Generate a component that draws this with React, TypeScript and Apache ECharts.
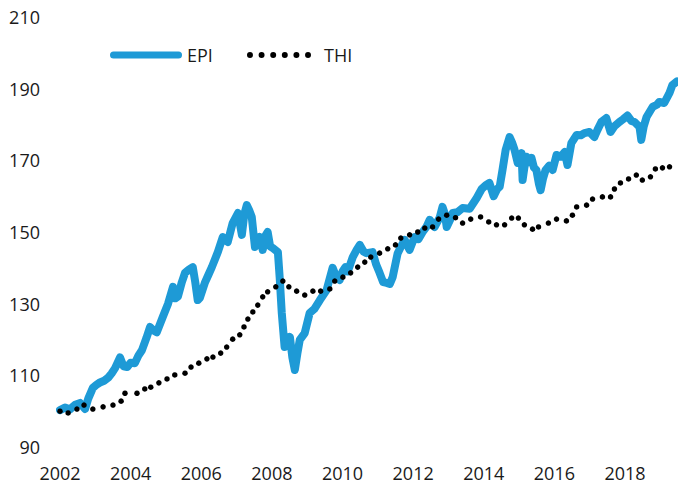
import React, { useEffect, useRef } from "react";
import * as echarts from "echarts";

const yearTicks = [2002, 2004, 2006, 2008, 2010, 2012, 2014, 2016, 2018];

const epiYears = [
  2002.0, 2002.14, 2002.28, 2002.43, 2002.57, 2002.71, 2002.8, 2002.93, 2003.05, 2003.13,
  2003.25, 2003.36, 2003.46, 2003.56, 2003.7, 2003.8, 2003.9, 2004.0, 2004.12, 2004.22,
  2004.32, 2004.45, 2004.55, 2004.65, 2004.74, 2004.91, 2005.06, 2005.2, 2005.27, 2005.34,
  2005.45, 2005.54, 2005.65, 2005.76, 2005.83, 2005.9, 2005.96, 2006.1, 2006.2, 2006.3,
  2006.47, 2006.61, 2006.75, 2006.89, 2007.04, 2007.1, 2007.15, 2007.22, 2007.29, 2007.36,
  2007.43, 2007.52, 2007.66, 2007.74, 2007.82, 2007.88, 2007.95, 2008.03, 2008.17, 2008.22,
  2008.28, 2008.36, 2008.45, 2008.51, 2008.58, 2008.65, 2008.72, 2008.79, 2008.93, 2009.07,
  2009.2, 2009.36, 2009.55, 2009.72, 2009.8, 2009.92, 2010.0, 2010.08, 2010.15, 2010.22,
  2010.29, 2010.4, 2010.49, 2010.6, 2010.68, 2010.85, 2010.95, 2011.05, 2011.15, 2011.25,
  2011.34, 2011.42, 2011.56, 2011.66, 2011.76, 2011.9, 2012.04, 2012.15, 2012.27, 2012.38,
  2012.47, 2012.61, 2012.75, 2012.83, 2012.9, 2012.95, 2013.05, 2013.12, 2013.25, 2013.4,
  2013.6, 2013.8, 2013.94, 2014.05, 2014.16, 2014.28, 2014.38, 2014.45, 2014.53, 2014.62,
  2014.73, 2014.8, 2014.87, 2014.96, 2015.07, 2015.1, 2015.15, 2015.21, 2015.28, 2015.35,
  2015.42, 2015.49, 2015.56, 2015.61, 2015.68, 2015.75, 2015.85, 2015.95, 2016.06, 2016.18,
  2016.29, 2016.37, 2016.48, 2016.63, 2016.75, 2016.85, 2016.99, 2017.13, 2017.22, 2017.33,
  2017.47, 2017.59, 2017.7, 2017.84, 2017.95, 2018.07, 2018.18, 2018.27, 2018.41, 2018.46,
  2018.53, 2018.61, 2018.78, 2018.9, 2018.97, 2019.11, 2019.26, 2019.34, 2019.47,
];

const epiValues = [
  100.3, 101.0, 100.5, 101.8, 102.3, 100.6, 103.5, 106.5, 107.5, 108,
  108.5, 109.3, 110.5, 112, 115, 112.5, 112.3, 113.5, 113.4, 115.5,
  117, 120.5, 123.5, 122.5, 122, 126.3, 130, 134.7, 131.5, 132,
  136, 138.6, 139.5, 140.2, 136, 131, 131.6, 135.8, 138, 140.2,
  144.4, 148.6, 147.2, 152.5, 155.3, 152, 149.2, 155, 157.5, 156,
  154.2, 145.8, 148.6, 145, 149, 150, 146, 145.5, 144.4, 137.4,
  127.4, 117.9, 119.5, 120.7, 115, 111.5, 116, 119.9, 121.8, 127.4,
  128.5, 131, 133.8, 140, 138, 136.6, 139, 140.2, 139, 141,
  143, 145, 146.4, 144.5, 144.1, 144.4, 141, 138.6, 136, 135.8,
  135.5, 137.4, 144, 146, 147.8, 145, 148.6, 148, 150, 151.5,
  153.4, 151.4, 154, 157, 155, 151.4, 153.5, 155.3, 155.5, 156.7,
  156.5, 159.5, 162, 163, 163.7, 160, 162, 162.6, 167.3, 172.9,
  176.5, 175, 173, 169.3, 172, 164.5, 168, 171, 169.5, 170.7,
  168, 167.3, 163.5, 161.7, 165, 167.3, 168.5, 167.3, 171.5, 171,
  172.3, 168.7, 174.8, 177.1, 177, 177.6, 177.9, 176.5, 178.5, 180.7,
  181.8, 177.9, 179.5, 180.7, 181.5, 182.5, 181, 180.7, 179.3, 175.7,
  179.5, 182.1, 184.9, 185.5, 186.3, 186, 188.8, 191, 192,
];

const thiYears = [
  2002.0, 2002.23, 2002.48, 2002.68, 2002.93, 2003.22, 2003.5, 2003.73, 2003.84, 2004.18,
  2004.4, 2004.57, 2004.8, 2005.03, 2005.25, 2005.54, 2005.71, 2005.93, 2006.16, 2006.33,
  2006.55, 2006.72, 2006.89, 2007.09, 2007.21, 2007.32, 2007.46, 2007.6, 2007.74, 2007.88,
  2008.11, 2008.31, 2008.48, 2008.7, 2008.93, 2009.16, 2009.38, 2009.64, 2009.78, 2010.01,
  2010.23, 2010.43, 2010.63, 2010.8, 2011.05, 2011.28, 2011.5, 2011.65, 2011.9, 2012.13,
  2012.33, 2012.55, 2012.72, 2012.95, 2013.2, 2013.4, 2013.63, 2013.91, 2014.14, 2014.36,
  2014.59, 2014.79, 2014.98, 2015.15, 2015.38, 2015.55, 2015.83, 2016.06, 2016.34, 2016.51,
  2016.63, 2016.91, 2017.08, 2017.36, 2017.59, 2017.7, 2017.87, 2018.1, 2018.32, 2018.49,
  2018.72, 2018.86, 2019.06, 2019.26,
];

const thiValues = [
  100, 99.5, 100.6, 101.7, 100.6, 101.2, 101.7, 102.8, 105, 105,
  106.2, 106.7, 107.9, 109, 110.1, 110.6, 112.3, 113.4, 114.6, 115.1,
  116.2, 117.9, 120.1, 121.3, 123.5, 125.7, 127.7, 129.6, 131.9, 133.3,
  134.7, 136.3, 134.7, 133.5, 132.4, 133.5, 133.5, 134.1, 136.3, 137.4,
  138.6, 140.2, 141.6, 143, 144.1, 145.3, 146.4, 148.3, 149.2, 150,
  151.1, 151.4, 153.6, 154.7, 154, 152.5, 153.6, 154.2, 152.8, 152,
  152, 153.9, 153.9, 152, 150.8, 151.4, 152.5, 153.6, 153.1, 154.7,
  157, 157.5, 159.2, 159.8, 159.8, 162, 163.7, 164.8, 165.9, 164.5,
  165.4, 167.6, 167.9, 168.2,
];

const yMin = 90;
const yMax = 210;
const yStep = 20;

const FONT = "'Open Sans', 'Noto Sans', sans-serif";
const TEXT_COLOR = "#1a1a1a";
const BLUE = "#1E9AD6";

function dotsIcon(): string {
  const parts: string[] = [];
  for (let i = 0; i < 6; i++) {
    const cx = 3 + i * 11.7;
    parts.push(`M${cx - 3},3 a3,3 0 1,0 6,0 a3,3 0 1,0 -6,0 Z`);
  }
  return "path://" + parts.join(" ");
}

export default function App() {
  const ref = useRef<HTMLDivElement>(null);

  useEffect(() => {
    if (!ref.current) return;
    const chart = echarts.init(ref.current, undefined, { renderer: "svg" });
    const epiData = epiYears.map((t, i) => [t, epiValues[i]]);
    const thiData = thiYears.map((t, i) => [t, thiValues[i]]);

    chart.setOption({
      animation: false,
      backgroundColor: "#ffffff",
      textStyle: { fontFamily: FONT },
      grid: { left: 60, right: 0, top: 17, bottom: 41, containLabel: false },
      legend: [
        {
          data: ["EPI"],
          left: 110,
          top: 45,
          padding: 0,
          icon: "path://M3.5,0 L68.5,0 A3.5,3.5 0 0 1 68.5,7 L3.5,7 A3.5,3.5 0 0 1 3.5,0 Z",
          itemWidth: 72,
          itemHeight: 7,
          textStyle: { fontSize: 18, color: TEXT_COLOR, fontFamily: FONT, lineHeight: 20 },
          selectedMode: false,
        },
        {
          data: ["THI"],
          left: 247,
          top: 45,
          padding: 0,
          icon: dotsIcon(),
          itemWidth: 64,
          itemHeight: 6,
          itemGap: 0,
          textStyle: { fontSize: 18, color: TEXT_COLOR, fontFamily: FONT, lineHeight: 20, padding: [0, 0, 0, 8] },
          selectedMode: false,
        },
      ],
      xAxis: {
        type: "value",
        min: yearTicks[0],
        max: 2019.5,
        interval: 2,
        axisLine: { show: false },
        axisTick: { show: false },
        splitLine: { show: false },
        axisLabel: {
          fontSize: 18,
          color: TEXT_COLOR,
          fontFamily: FONT,
          margin: 17,
          showMaxLabel: false,
          formatter: (v: number) => (yearTicks.includes(v) ? String(v) : ""),
        },
      },
      yAxis: {
        type: "value",
        min: yMin,
        max: yMax,
        interval: yStep,
        axisLine: { show: false },
        axisTick: { show: false },
        splitLine: { show: false },
        axisLabel: {
          fontSize: 18,
          color: TEXT_COLOR,
          fontFamily: FONT,
          margin: 20,
        },
      },
      series: [
        {
          name: "EPI",
          type: "line",
          data: epiData,
          showSymbol: false,
          symbol: "none",
          color: BLUE,
          lineStyle: { width: 8, color: BLUE, join: "round", cap: "round" },
          z: 2,
        },
        {
          name: "THI",
          type: "line",
          data: thiData,
          showSymbol: true,
          symbol: "circle",
          symbolSize: 5.5,
          color: "#000000",
          itemStyle: { color: "#000000" },
          lineStyle: { width: 0, opacity: 0 },
          z: 3,
        },
      ],
    });

    return () => chart.dispose();
  }, []);

  return (
    <div
      ref={ref}
      style={{ position: "absolute", left: 0, top: 0, width: 678, height: 488 }}
    />
  );
}
